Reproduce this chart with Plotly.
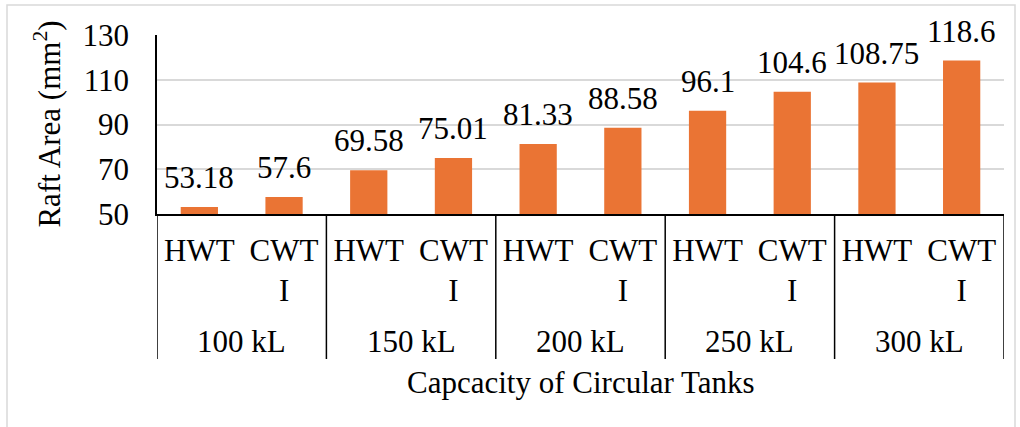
import plotly.graph_objects as go

groups = ["100 kL", "150 kL", "200 kL", "250 kL", "300 kL"]
subcats = ["HWT", "CWT<br>I"]
hwt = [53.18, 69.58, 81.33, 96.1, 108.75]
cwti = [57.6, 75.01, 88.58, 104.6, 118.6]
hwt_labels = ["53.18", "69.58", "81.33", "96.1", "108.75"]
cwti_labels = ["57.6", "75.01", "88.58", "104.6", "118.6"]
y_ticks = [50, 70, 90, 110, 130]

FONT = "Liberation Serif, Times New Roman, serif"
FS = 31
ORANGE = "#EA7434"

xs, ys, labels, ticktext = [], [], [], []
for g in range(len(groups)):
    xs += [2 * g, 2 * g + 1]
    ys += [hwt[g], cwti[g]]
    labels += [hwt_labels[g], cwti_labels[g]]
    ticktext += subcats

fig = go.Figure()
fig.add_trace(go.Bar(x=xs, y=ys, width=0.44, marker=dict(color=ORANGE, line=dict(width=0)),
                     hoverinfo="skip"))

annotations = []
for x, y, t in zip(xs, ys, labels):
    annotations.append(dict(x=x, y=y, xref="x", yref="y", text=t, showarrow=False,
                            yanchor="bottom", xanchor="center", yshift=10,
                            font=dict(family=FONT, size=FS, color="black")))
for g, name in enumerate(groups):
    annotations.append(dict(x=2 * g + 0.5, y=-0.715, xref="x", yref="paper", text=name,
                            showarrow=False, yanchor="middle", xanchor="center",
                            font=dict(family=FONT, size=FS, color="black")))
annotations.append(dict(x=0.5, y=-0.941, xref="paper", yref="paper",
                        text="Capcacity of Circular Tanks", showarrow=False,
                        yanchor="middle", xanchor="center",
                        font=dict(family=FONT, size=FS, color="black")))
annotations.append(dict(x=-0.1298, y=0.5, xref="paper", yref="paper",
                        text="Raft Area (mm<sup>2</sup>)", showarrow=False, textangle=-90,
                        yanchor="middle", xanchor="center",
                        font=dict(family=FONT, size=FS, color="black")))

shapes = []
for k in range(len(groups) + 1):
    shapes.append(dict(type="line", xref="x", yref="paper", x0=2 * k - 0.5, x1=2 * k - 0.5,
                       y0=0, y1=-0.81, line=dict(color="black", width=1.5)))
shapes.append(dict(type="rect", xref="paper", yref="paper", x0=-0.1771, x1=1.01299,
                   y0=-1.25, y1=1.1676, line=dict(color="#D9D9D9", width=1.5),
                   fillcolor="rgba(0,0,0,0)", layer="below"))

fig.update_layout(
    width=1020, height=427,
    margin=dict(l=157, r=16, t=35, b=213),
    paper_bgcolor="white", plot_bgcolor="white",
    showlegend=False,
    font=dict(family=FONT, size=FS, color="black"),
    annotations=annotations, shapes=shapes,
    xaxis=dict(range=[-0.5, 9.5], tickvals=xs, ticktext=ticktext, showgrid=False,
               zeroline=False, showline=True, linecolor="black", linewidth=1.5,
               ticks="", ticklabelstandoff=8, tickfont=dict(family=FONT, size=FS, color="black"),
               fixedrange=True),
    yaxis=dict(range=[50, 130], tickvals=y_ticks, showgrid=True, gridcolor="#D9D9D9",
               gridwidth=1.5, zeroline=False, showline=True, linecolor="black", linewidth=1.5,
               ticks="", ticklabelstandoff=20, tickfont=dict(family=FONT, size=FS, color="black"),
               fixedrange=True),
)

fig.write_html("out.html", config={"displayModeBar": False},
               post_script="document.body.style.margin='0';document.body.style.overflow='hidden';")
